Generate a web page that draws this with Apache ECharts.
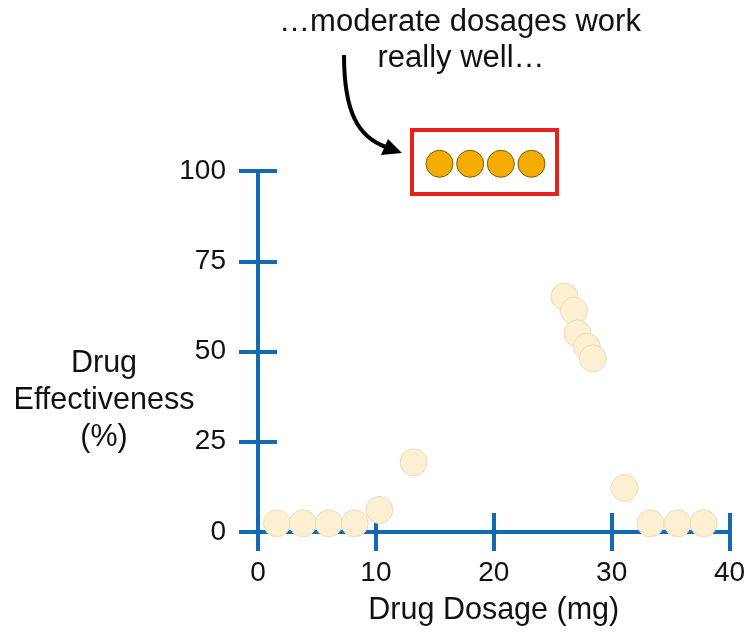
<!DOCTYPE html>
<html>
<head>
<meta charset="utf-8">
<script src="https://cdn.jsdelivr.net/npm/echarts@6/dist/echarts.min.js"></script>
<style>
  html, body { margin: 0; padding: 0; background: #fff; }
  #chart { width: 753px; height: 641px; }
</style>
</head>
<body>
<div id="chart"></div>
<script>
// faded points (all measurements)
const dosage = [1.6, 3.8, 6.0, 8.2, 10.3, 13.2, 26.0, 26.8, 27.1, 27.9, 28.4, 31.1, 33.3, 35.6, 37.8];
const effectiveness = [2.4, 2.4, 2.4, 2.4, 6.1, 19.3, 65.2, 61.3, 55.0, 51.3, 48.1, 12.2, 2.4, 2.4, 2.4];

// highlighted points shown in the red box
const hiDosage = [15.4, 18.0, 20.6, 23.2];
const hiEffect = [102, 102, 102, 102];

const xTicks = [0, 10, 20, 30, 40];
const yTicks = [0, 25, 50, 75, 100];

const FONT = "'Helvetica Neue', Helvetica, Arial, 'Liberation Sans', sans-serif";
const BLUE = '#1469b3';

const chart = echarts.init(document.getElementById('chart'));

function xAxisDef(outer) {
    return {
        type: 'value',
        min: xTicks[0],
        max: xTicks[xTicks.length - 1],
        interval: 10,
        position: 'bottom',
        axisLine: { show: outer, onZero: false, lineStyle: { color: BLUE, width: 4 } },
        axisTick: { show: true, inside: !outer, length: 19, lineStyle: { color: BLUE, width: 4 } },
        axisLabel: {
            show: outer, margin: 27, color: '#111', fontSize: 28, fontFamily: FONT
        },
        splitLine: { show: false },
        name: outer ? 'Drug Dosage (mg)' : '',
        nameLocation: 'middle',
        nameGap: 63,
        nameTextStyle: { color: '#111', fontSize: 30.5, fontFamily: FONT }
    };
}

function yAxisDef(outer) {
    return {
        type: 'value',
        min: yTicks[0],
        max: yTicks[yTicks.length - 1],
        interval: 25,
        position: 'left',
        axisLine: { show: outer, onZero: false, lineStyle: { color: BLUE, width: 4 } },
        axisTick: { show: true, inside: !outer, length: 19, lineStyle: { color: BLUE, width: 4 } },
        axisLabel: {
            show: outer, margin: 32, color: '#111', fontSize: 28, fontFamily: FONT
        },
        splitLine: { show: false }
    };
}

const option = {
    animation: false,
    grid: { left: 258, right: 23.5, top: 171, bottom: 109 },
    xAxis: [xAxisDef(true), xAxisDef(false)],
    yAxis: [yAxisDef(true), yAxisDef(false)],
    series: [
        {
            name: 'all',
            type: 'scatter',
            data: dosage.map((d, i) => [d, effectiveness[i]]),
            symbolSize: 27,
            clip: false,
            itemStyle: { color: '#fcefd2', borderColor: '#ebdbbb', borderWidth: 1, opacity: 1 }
        },
        {
            name: 'moderate',
            type: 'scatter',
            data: hiDosage.map((d, i) => [d, hiEffect[i]]),
            symbolSize: 27,
            clip: false,
            itemStyle: { color: '#f5ac00', borderColor: '#7a5a12', borderWidth: 1, opacity: 1 },
            z: 5
        }
    ],
    graphic: [
        {
            type: 'text',
            style: {
                text: '\u2026moderate dosages work',
                x: 460, y: 22,
                align: 'center', verticalAlign: 'middle',
                textAlign: 'center', textVerticalAlign: 'middle',
                fontSize: 31, fontFamily: FONT, fill: '#111'
            }
        },
        {
            type: 'text',
            style: {
                text: 'really well\u2026',
                x: 461, y: 58,
                align: 'center', verticalAlign: 'middle',
                textAlign: 'center', textVerticalAlign: 'middle',
                fontSize: 31, fontFamily: FONT, fill: '#111'
            }
        },
        {
            type: 'text',
            style: {
                text: 'Drug\nEffectiveness\n(%)',
                x: 104, y: 401,
                align: 'center', verticalAlign: 'middle',
                textAlign: 'center', textVerticalAlign: 'middle',
                lineHeight: 37,
                fontSize: 30.5, fontFamily: FONT, fill: '#111'
            }
        },
        {
            type: 'bezierCurve',
            shape: { x1: 344, y1: 55, cpx1: 344, cpy1: 112, cpx2: 358, cpy2: 137, x2: 386, y2: 147 },
            style: { stroke: '#000', lineWidth: 4, fill: null }
        },
        {
            type: 'polygon',
            shape: { points: [[402, 153], [381, 155], [388, 139]] },
            style: { fill: '#000' }
        },
        {
            type: 'rect',
            shape: { x: 412, y: 130, width: 145, height: 64 },
            style: { stroke: '#e5221c', lineWidth: 4, fill: null },
            z: 10
        }
    ]
};

chart.setOption(option);
</script>
</body>
</html>
